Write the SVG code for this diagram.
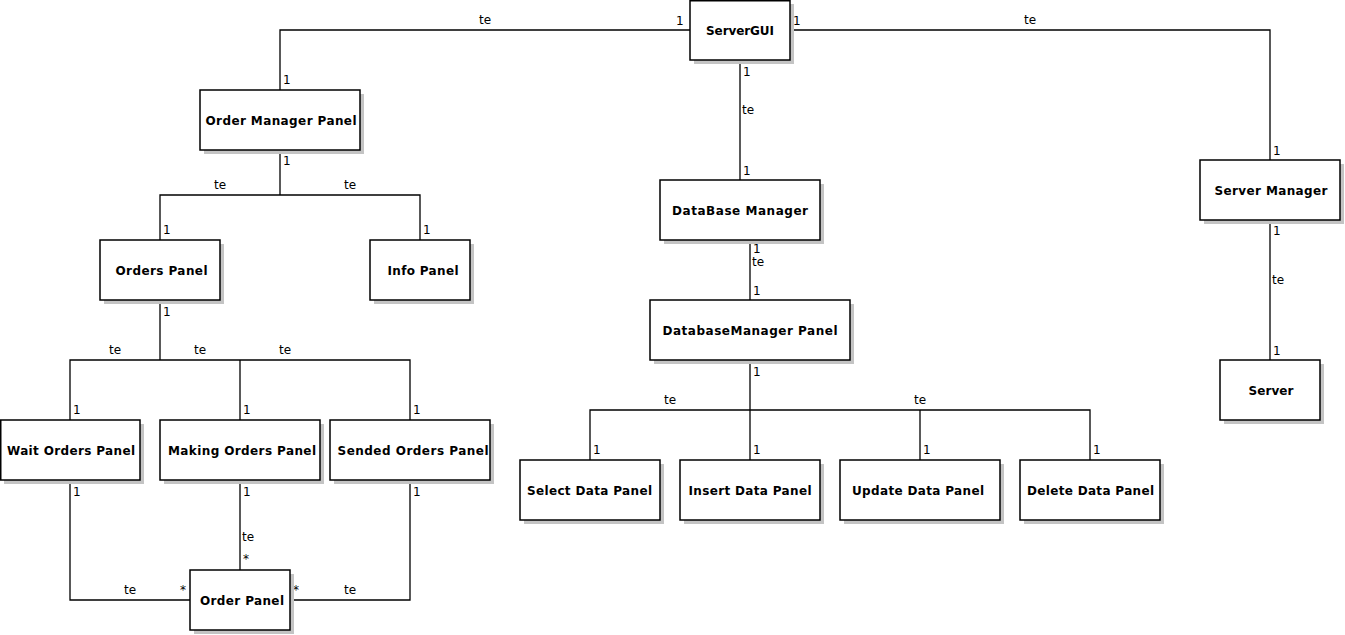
<svg xmlns="http://www.w3.org/2000/svg" width="1345" height="635" viewBox="0 0 1345 635">
<style>
.bg{fill:#ffffff}
.shadow{fill:#c4c4c4}
.box{fill:#ffffff;stroke:#000000;stroke-width:1.5}
.name{font-family:"DejaVu Sans","Liberation Sans",sans-serif;font-size:12px;font-weight:bold;fill:#000000;text-anchor:middle}
.conn{fill:none;stroke:#000000;stroke-width:1.3}
.lbl{font-family:"DejaVu Sans","Liberation Sans",sans-serif;font-size:12px;fill:#000000}
.mid{text-anchor:middle}
</style>
<rect class="bg" x="0" y="0" width="1345" height="635"/>
<g id="connectors">
  <polyline class="conn" points="690,30 280,30 280,90"/>
  <polyline class="conn" points="790,30 1270,30 1270,160"/>
  <polyline class="conn" points="740,60 740,180"/>
  <polyline class="conn" points="750,240 750,300"/>
  <polyline class="conn" points="1270,220 1270,360"/>
  <polyline class="conn" points="280,150 280,195"/>
  <polyline class="conn" points="160,240 160,195 420,195 420,240"/>
  <polyline class="conn" points="160,300 160,360"/>
  <polyline class="conn" points="70,420 70,360 410,360 410,420"/>
  <polyline class="conn" points="240,360 240,420"/>
  <polyline class="conn" points="750,360 750,460"/>
  <polyline class="conn" points="590,460 590,410 1090,410 1090,460"/>
  <polyline class="conn" points="920,410 920,460"/>
  <polyline class="conn" points="70,480 70,600 190,600"/>
  <polyline class="conn" points="240,480 240,570"/>
  <polyline class="conn" points="410,480 410,600 290,600"/>
  <g id="connector-labels">
    <text class="lbl mid" x="485" y="23.5">te</text>
    <text class="lbl" x="676" y="24.5">1</text>
    <text class="lbl" x="283" y="84">1</text>
    <text class="lbl" x="793" y="24.5">1</text>
    <text class="lbl mid" x="1030" y="23.5">te</text>
    <text class="lbl" x="1273" y="154.5">1</text>
    <text class="lbl" x="743" y="75.5">1</text>
    <text class="lbl" x="742" y="113.5">te</text>
    <text class="lbl" x="743" y="174.5">1</text>
    <text class="lbl" x="753" y="253">1</text>
    <text class="lbl" x="752" y="266">te</text>
    <text class="lbl" x="753" y="294.5">1</text>
    <text class="lbl" x="1273" y="234.5">1</text>
    <text class="lbl" x="1272" y="284">te</text>
    <text class="lbl" x="1273" y="354.5">1</text>
    <text class="lbl" x="283" y="164.5">1</text>
    <text class="lbl mid" x="220" y="188.5">te</text>
    <text class="lbl mid" x="350" y="188.5">te</text>
    <text class="lbl" x="163" y="233.5">1</text>
    <text class="lbl" x="423" y="233.5">1</text>
    <text class="lbl" x="163" y="315.5">1</text>
    <text class="lbl mid" x="115" y="353.5">te</text>
    <text class="lbl mid" x="200" y="353.5">te</text>
    <text class="lbl mid" x="285" y="353.5">te</text>
    <text class="lbl" x="73" y="413.5">1</text>
    <text class="lbl" x="243" y="413.5">1</text>
    <text class="lbl" x="413" y="413.5">1</text>
    <text class="lbl" x="753" y="375.5">1</text>
    <text class="lbl mid" x="670" y="403.5">te</text>
    <text class="lbl mid" x="920" y="403.5">te</text>
    <text class="lbl" x="593" y="453.5">1</text>
    <text class="lbl" x="753" y="453.5">1</text>
    <text class="lbl" x="923" y="453.5">1</text>
    <text class="lbl" x="1093" y="453.5">1</text>
    <text class="lbl" x="73" y="495.5">1</text>
    <text class="lbl mid" x="130" y="593.5">te</text>
    <text class="lbl" x="180" y="594">*</text>
    <text class="lbl" x="243" y="495.5">1</text>
    <text class="lbl" x="242" y="540.5">te</text>
    <text class="lbl" x="243" y="563">*</text>
    <text class="lbl" x="413" y="495.5">1</text>
    <text class="lbl" x="293" y="594">*</text>
    <text class="lbl mid" x="350" y="593.5">te</text>
  </g>
</g>
<g id="node-servergui"><rect class="shadow" x="694" y="4" width="100" height="60"/><rect class="box" x="690" y="0.75" width="100" height="59.25"/><text class="name" x="740" y="34.5" textLength="68" lengthAdjust="spacing">ServerGUI</text></g>
<g id="node-order-manager-panel"><rect class="shadow" x="204" y="94" width="160" height="60"/><rect class="box" x="200" y="90" width="160" height="60"/><text class="name" x="281" y="124.5" textLength="151" lengthAdjust="spacing">Order Manager Panel</text></g>
<g id="node-database-manager"><rect class="shadow" x="664" y="184" width="160" height="60"/><rect class="box" x="660" y="180" width="160" height="60"/><text class="name" x="740" y="214.5" textLength="136" lengthAdjust="spacing">DataBase Manager</text></g>
<g id="node-server-manager"><rect class="shadow" x="1204" y="164" width="140" height="60"/><rect class="box" x="1200" y="160" width="140" height="60"/><text class="name" x="1271" y="194.5" textLength="113" lengthAdjust="spacing">Server Manager</text></g>
<g id="node-server"><rect class="shadow" x="1224" y="364" width="100" height="60"/><rect class="box" x="1220" y="360" width="100" height="60"/><text class="name" x="1271" y="394.5" textLength="45" lengthAdjust="spacing">Server</text></g>
<g id="node-orders-panel"><rect class="shadow" x="104" y="244" width="120" height="60"/><rect class="box" x="100" y="240" width="120" height="60"/><text class="name" x="161.5" y="274.5" textLength="92" lengthAdjust="spacing">Orders Panel</text></g>
<g id="node-info-panel"><rect class="shadow" x="374" y="244" width="100" height="60"/><rect class="box" x="370" y="240" width="100" height="60"/><text class="name" x="423" y="274.5" textLength="71" lengthAdjust="spacing">Info Panel</text></g>
<g id="node-databasemanager-panel"><rect class="shadow" x="654" y="304" width="200" height="60"/><rect class="box" x="650" y="300" width="200" height="60"/><text class="name" x="750" y="334.5" textLength="175" lengthAdjust="spacing">DatabaseManager Panel</text></g>
<g id="node-wait-orders-panel"><rect class="shadow" x="4" y="424" width="140" height="60"/><rect class="box" x="0.75" y="420" width="139.25" height="60"/><text class="name" x="71" y="454.5" textLength="128" lengthAdjust="spacing">Wait Orders Panel</text></g>
<g id="node-making-orders-panel"><rect class="shadow" x="164" y="424" width="160" height="60"/><rect class="box" x="160" y="420" width="160" height="60"/><text class="name" x="242" y="454.5" textLength="148" lengthAdjust="spacing">Making Orders Panel</text></g>
<g id="node-sended-orders-panel"><rect class="shadow" x="334" y="424" width="160" height="60"/><rect class="box" x="330" y="420" width="160" height="60"/><text class="name" x="413" y="454.5" textLength="151" lengthAdjust="spacing">Sended Orders Panel</text></g>
<g id="node-order-panel"><rect class="shadow" x="194" y="574" width="100" height="60"/><rect class="box" x="190" y="570" width="100" height="60"/><text class="name" x="242" y="604.5" textLength="84" lengthAdjust="spacing">Order Panel</text></g>
<g id="node-select-data-panel"><rect class="shadow" x="524" y="464" width="140" height="60"/><rect class="box" x="520" y="460" width="140" height="60"/><text class="name" x="589.5" y="494.5" textLength="125" lengthAdjust="spacing">Select Data Panel</text></g>
<g id="node-insert-data-panel"><rect class="shadow" x="684" y="464" width="140" height="60"/><rect class="box" x="680" y="460" width="140" height="60"/><text class="name" x="750" y="494.5" textLength="123" lengthAdjust="spacing">Insert Data Panel</text></g>
<g id="node-update-data-panel"><rect class="shadow" x="844" y="464" width="160" height="60"/><rect class="box" x="840" y="460" width="160" height="60"/><text class="name" x="918" y="494.5" textLength="132" lengthAdjust="spacing">Update Data Panel</text></g>
<g id="node-delete-data-panel"><rect class="shadow" x="1024" y="464" width="140" height="60"/><rect class="box" x="1020" y="460" width="140" height="60"/><text class="name" x="1090.5" y="494.5" textLength="127" lengthAdjust="spacing">Delete Data Panel</text></g>
</svg>
